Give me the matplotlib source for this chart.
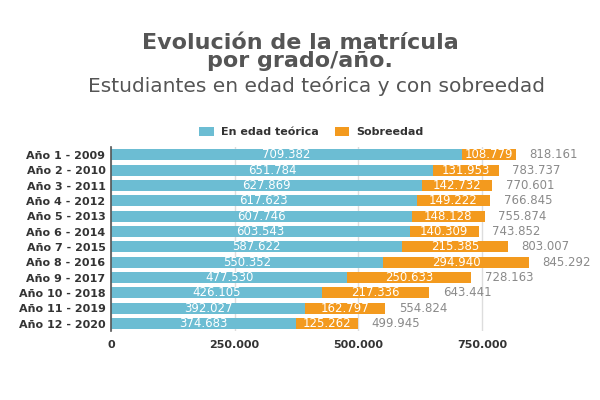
import matplotlib
matplotlib.use("Agg")
import matplotlib.pyplot as plt
import numpy as np

categories = ["Año 1 - 2009", "Año 2 - 2010", "Año 3 - 2011", "Año 4 - 2012",
              "Año 5 - 2013", "Año 6 - 2014", "Año 7 - 2015", "Año 8 - 2016",
              "Año 9 - 2017", "Año 10 - 2018", "Año 11 - 2019", "Año 12 - 2020"]
edad_teorica = [709382, 651784, 627869, 617623, 607746, 603543, 587622, 550352,
                477530, 426105, 392027, 374683]
sobreedad = [108779, 131953, 142732, 149222, 148128, 140309, 215385, 294940,
             250633, 217336, 162797, 125262]
xticks = [0, 250000, 500000, 750000]

def fmt(v):
    return f"{v:,}".replace(",", ".")

blue = "#6cbdd3"
orange = "#f39a1e"

fig = plt.figure(figsize=(6, 4), dpi=100)
ax = fig.add_axes([0.185, 0.172, 0.742, 0.46])

y = np.arange(len(categories))
ax.barh(y, edad_teorica, height=0.72, color=blue, zorder=2, label="En edad teórica")
ax.barh(y, sobreedad, left=edad_teorica, height=0.72, color=orange, zorder=2, label="Sobreedad")

for i in range(len(categories)):
    a, b = edad_teorica[i], sobreedad[i]
    ax.text(a / 2, i, fmt(a), ha="center", va="center", color="white",
            fontsize=8.5, zorder=3)
    ax.text(a + b / 2, i, fmt(b), ha="center", va="center", color="white",
            fontsize=8.5, zorder=3)
    ax.text(a + b + 27000, i, fmt(a + b), ha="left", va="center", color="#8a8a8a",
            fontsize=8.5, zorder=3)

ax.set_ylim(len(categories) - 0.5, -0.5)
ax.set_xlim(0, 900000)
ax.set_yticks(y)
ax.set_yticklabels(categories, fontsize=8, color="#333333", fontweight="semibold")
ax.set_xticks(xticks)
ax.set_xticklabels([fmt(v) for v in xticks], fontsize=8, color="#333333",
                   fontweight="semibold")
ax.tick_params(axis="y", length=0, pad=4)
ax.tick_params(axis="x", length=0, pad=6)
ax.xaxis.grid(True, color="#dddddd", linewidth=1, zorder=0)
for s in ["top", "right", "bottom"]:
    ax.spines[s].set_visible(False)
ax.spines["left"].set_color("#555555")
ax.spines["left"].set_linewidth(1.2)

leg = ax.legend(loc="lower center", bbox_to_anchor=(0.45, 1.0), ncol=2,
                frameon=False, fontsize=8, handlelength=1.3, handleheight=0.9,
                columnspacing=1.5, handletextpad=0.6)
for t in leg.get_texts():
    t.set_fontweight("bold")
    t.set_color("#333333")

fig.text(0.5, 0.87, "Evolución de la matrícula\npor grado/año.", ha="center",
         va="center", fontsize=16, fontweight="heavy", color="#555555",
         linespacing=0.87)
fig.text(0.527, 0.81, "Estudiantes en edad teórica y con sobreedad", ha="center",
         va="top", fontsize=14.5, color="#555555", family="DejaVu Sans")

fig.savefig("out.png", dpi=100, facecolor="white")
